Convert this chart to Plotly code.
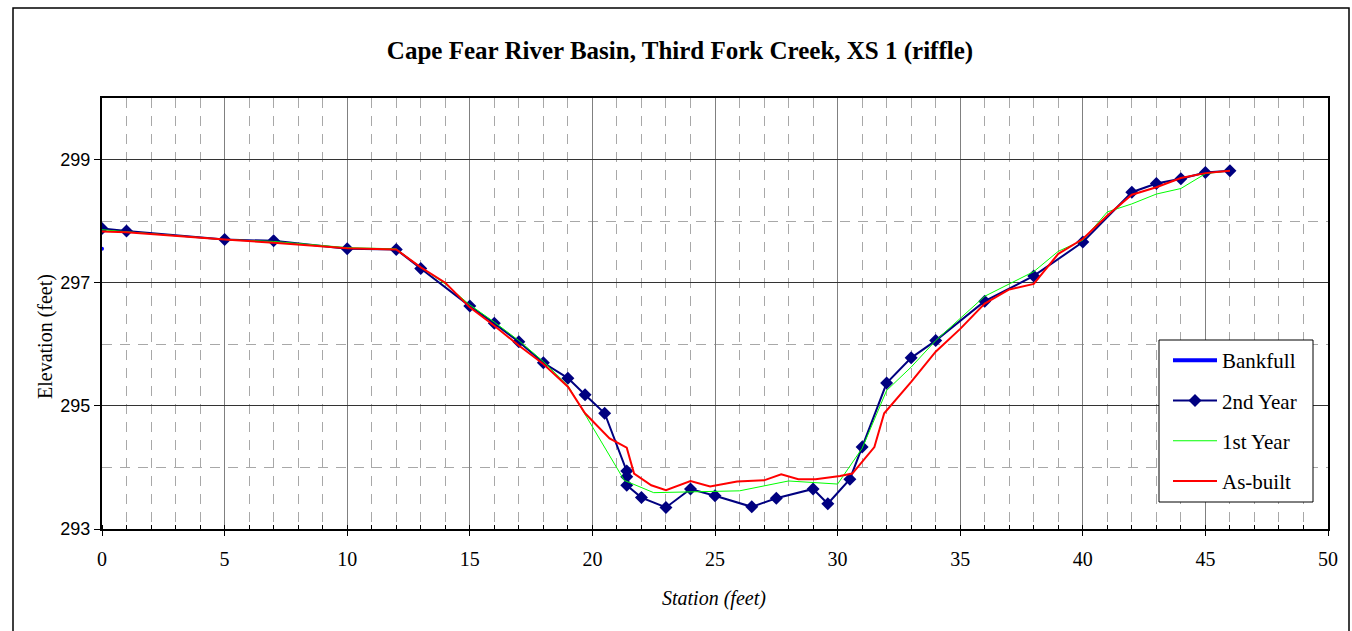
import plotly.graph_objects as go

# ---- data ----
bankfull_x = [0]
bankfull_y = [297.55]

year2_x = [0, 1, 5, 7, 10, 12, 13, 15, 16, 17, 18, 19, 19.7, 20.5, 21.4, 21.4, 21.4, 22, 23, 24,
           25, 26.5, 27.5, 29, 29.6, 30.5, 31, 32, 33, 34, 36, 38, 40, 42, 43, 44, 45, 46]
year2_y = [297.88, 297.84, 297.70, 297.68, 297.55, 297.54, 297.23, 296.62, 296.34, 296.04,
           295.70, 295.45, 295.18, 294.88, 293.94, 293.85, 293.71, 293.51, 293.35, 293.65,
           293.54, 293.36, 293.50, 293.65, 293.41, 293.81, 294.33, 295.37, 295.78, 296.06,
           296.70, 297.11, 297.66, 298.47, 298.61, 298.69, 298.79, 298.82]

year1_x = [0, 1, 5, 7, 10, 12, 13, 14, 15, 16, 17, 18, 19, 21.3, 22.5, 26, 28, 30, 31, 32,
           33, 34, 36, 38, 39, 40, 41, 42, 43, 44, 45, 46]
year1_y = [297.86, 297.83, 297.70, 297.67, 297.57, 297.55, 297.25, 296.98, 296.64, 296.36,
           296.06, 295.72, 295.33, 293.79, 293.59, 293.62, 293.78, 293.73, 294.31, 295.25,
           295.63, 296.06, 296.78, 297.18, 297.51, 297.69, 298.15, 298.28, 298.44, 298.53,
           298.77, 298.82]

asbuilt_x = [0, 1, 5, 7, 10, 12, 13, 14, 15, 16, 17, 18, 19, 19.7, 20.7, 21.4, 21.7, 22.4, 23, 24,
             24.8, 25.9, 27, 27.7, 28.4, 29.1, 30.1, 30.6, 31.5, 31.9, 33, 34, 35, 36, 37, 38, 39, 40,
             41, 42, 43, 44, 45, 46]
asbuilt_y = [297.83, 297.82, 297.70, 297.65, 297.56, 297.54, 297.25, 297.00, 296.60, 296.30,
             295.98, 295.68, 295.31, 294.88, 294.47, 294.32, 293.90, 293.71, 293.63, 293.78,
             293.69, 293.77, 293.79, 293.89, 293.81, 293.81, 293.86, 293.90, 294.33, 294.88,
             295.39, 295.88, 296.25, 296.66, 296.89, 296.98, 297.47, 297.71, 298.09, 298.43,
             298.55, 298.70, 298.78, 298.82]

title_text = "Cape Fear River Basin, Third Fork Creek, XS 1 (riffle)"
x_title = "Station (feet)"
y_title = "Elevation (feet)"

SERIF = "Liberation Serif, Times New Roman, serif"
SANS = "Liberation Sans, Arial, sans-serif"

# plot area geometry in pixels
L, R, T, B = 102, 1328, 98, 529
PW, PH = R - L, B - T

def px(xp):
    return (xp - L) / PW

def py(yp):
    return (B - yp) / PH

fig = go.Figure()
fig.add_trace(go.Scatter(x=bankfull_x, y=bankfull_y, mode="lines", name="Bankfull",
                         line=dict(color="#0000FF", width=4), legendgroup="a"))
fig.add_trace(go.Scatter(x=bankfull_x, y=bankfull_y, mode="markers", showlegend=False,
                         marker=dict(color="#0000FF", size=4), legendgroup="a"))
fig.add_trace(go.Scatter(x=year2_x, y=year2_y, mode="lines+markers", name="2nd Year",
                         line=dict(color="#000080", width=2),
                         marker=dict(symbol="diamond", size=10, color="#000080"),
                         legendgroup="b"))
fig.add_trace(go.Scatter(x=year1_x, y=year1_y, mode="lines", name="1st Year",
                         line=dict(color="#00FF00", width=1), legendgroup="c"))
fig.add_trace(go.Scatter(x=asbuilt_x, y=asbuilt_y, mode="lines", name="As-built",
                         line=dict(color="#FF0000", width=2), legendgroup="d"))

fig.update_layout(
    width=1352, height=631,
    margin=dict(l=L, r=1352 - R, t=T, b=631 - B),
    paper_bgcolor="white", plot_bgcolor="white",
    title=dict(text="<b>" + title_text + "</b>", x=680 / 1352, xref="container",
               y=1 - 50 / 631, yanchor="middle", xanchor="center",
               font=dict(family=SERIF, size=25, color="black")),
    showlegend=True,
    legend=dict(x=px(1168), y=py(340), xanchor="left", yanchor="top",
                bgcolor="rgba(0,0,0,0)", borderwidth=0, itemwidth=44,
                font=dict(family=SERIF, size=21, color="black"),
                tracegroupgap=10, traceorder="grouped"),
    shapes=[
        dict(type="rect", xref="paper", yref="paper",
             x0=px(13), x1=px(1349), y0=py(640), y1=py(8),
             line=dict(color="black", width=1.5), fillcolor="rgba(0,0,0,0)", layer="below"),
        dict(type="rect", xref="paper", yref="paper",
             x0=px(1159), x1=px(1313), y0=py(502), y1=py(340),
             line=dict(color="black", width=1), fillcolor="white", layer="above"),
    ],
    annotations=[
        dict(text="<i>" + x_title + "</i>", xref="paper", yref="paper",
             x=px(714), y=py(598), xanchor="center", yanchor="middle", showarrow=False,
             font=dict(family=SERIF, size=20, color="black")),
        dict(text=y_title, xref="paper", yref="paper", textangle=-90,
             x=px(45), y=py(337), xanchor="center", yanchor="middle", showarrow=False,
             font=dict(family=SERIF, size=20, color="black")),
    ],
)

fig.update_xaxes(
    range=[0, 50], tick0=0, dtick=5,
    showgrid=True, gridcolor="#808080", gridwidth=1,
    ticks="outside", ticklen=5, tickcolor="black", tickwidth=1,
    showline=True, linecolor="black", linewidth=2, mirror=True,
    zeroline=False, ticklabelstandoff=6,
    tickfont=dict(family=SERIF, size=20, color="black"),
    minor=dict(dtick=1, showgrid=True, gridcolor="#A8A8A8", griddash="10px,8px", gridwidth=1,
               ticks="inside", ticklen=4, tickcolor="black"),
)
fig.update_yaxes(
    range=[293, 300], tick0=293, dtick=2,
    showgrid=True, gridcolor="#333333", gridwidth=1,
    ticks="outside", ticklen=6, tickcolor="black", tickwidth=1,
    showline=True, linecolor="black", linewidth=2, mirror=True,
    zeroline=False,
    tickfont=dict(family=SANS, size=18, color="black"),
    minor=dict(dtick=1, showgrid=True, gridcolor="#A8A8A8", griddash="10px,8px", gridwidth=1),
)

fig.write_html("out.html", config={"displayModeBar": False},
               post_script="document.body.style.margin='0';")
